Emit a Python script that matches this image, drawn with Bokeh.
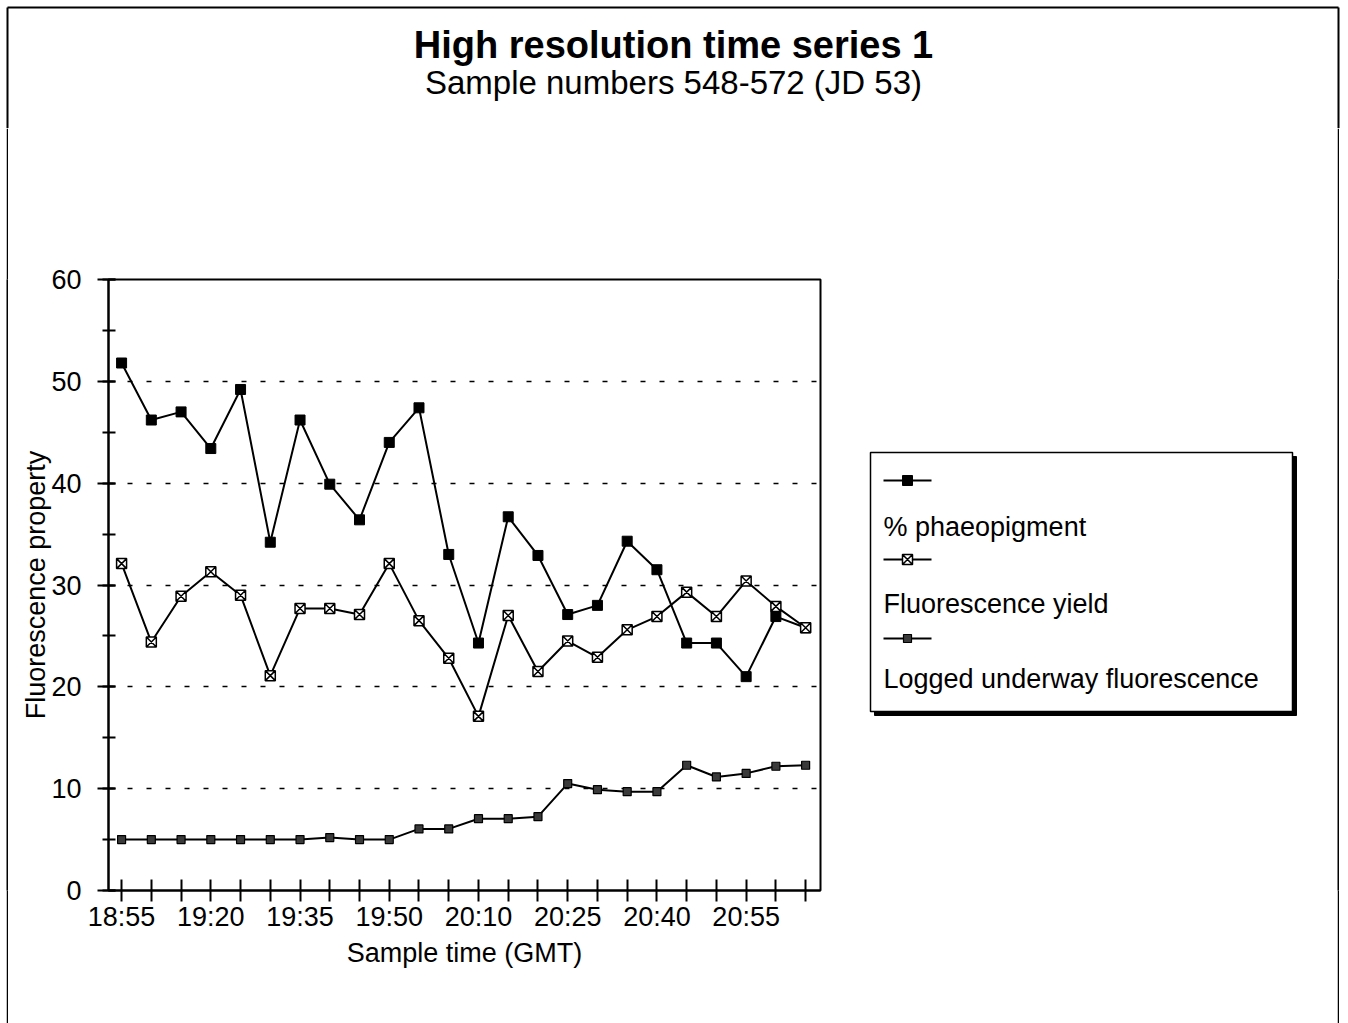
from bokeh.plotting import figure
from bokeh.models import Range1d, FixedTicker, SingleIntervalTicker, ColumnDataSource, Spacer
from bokeh.layouts import column, row
from bokeh.core.properties import value
from bokeh.embed import file_html
from bokeh.resources import INLINE

FONT = "Liberation Sans"

# ---------------- data ----------------
title = "High resolution time series 1"
subtitle = "Sample numbers 548-572 (JD 53)"
x_label = "Sample time (GMT)"
y_label = "Fluorescence property"

sample_index = list(range(24))
label_positions = [0, 3, 6, 9, 12, 15, 18, 21]
time_labels = ["18:55", "19:20", "19:35", "19:50", "20:10", "20:25", "20:40", "20:55"]

series_names = ["% phaeopigment", "Fluorescence yield", "Logged underway fluorescence"]

phaeopigment = [51.8, 46.2, 47.0, 43.4, 49.2, 34.2, 46.2, 39.9, 36.4, 44.0, 47.4, 33.0,
                24.3, 36.7, 32.9, 27.1, 28.0, 34.3, 31.5, 24.3, 24.3, 21.0, 26.9, 25.8]
fluor_yield = [32.1, 24.4, 28.9, 31.3, 29.0, 21.1, 27.7, 27.7, 27.1, 32.1, 26.5, 22.8,
               17.1, 27.0, 21.5, 24.5, 22.9, 25.6, 26.9, 29.3, 26.9, 30.4, 27.9, 25.8]
logged_fluor = [5.0, 5.0, 5.0, 5.0, 5.0, 5.0, 5.0, 5.2, 5.0, 5.0, 6.05, 6.05,
                7.05, 7.05, 7.25, 10.5, 9.9, 9.7, 9.7, 12.3, 11.15, 11.5, 12.2, 12.3]

grid_values = [10, 20, 30, 40, 50]

# marker styles for each series
styles = [
    dict(marker="square", size=10, fill_color="black", line_color="black", line_width=1),
    dict(marker="square_x", size=10, fill_color="white", line_color="black", line_width=1.5),
    dict(marker="square", size=8, fill_color="#3a3a3a", line_color="black", line_width=1.2),
]

# ---------------- geometry (page pixels) ----------------
W_TOTAL = 1341
TITLE_H = 128
ROW_H = 895
P_W = 832
LEG_X0 = 840
LEG_W = 497
FRAME_TOP = 151
FRAME_BOTTOM = 133


def bare(fig, bg="white"):
    fig.outline_line_color = None
    fig.background_fill_color = bg
    fig.border_fill_color = bg
    return fig


# ---------------- title figure ----------------
tf = bare(figure(width=W_TOTAL, height=TITLE_H, x_range=Range1d(0, W_TOTAL),
                 y_range=Range1d(TITLE_H, 0), x_axis_type=None, y_axis_type=None,
                 toolbar_location=None, output_backend="svg", min_border=0))
tf.text(x=[673], y=[44], text=[title], text_align="center", text_baseline="alphabetic",
        text_font=value(FONT), text_font_size="38px", text_font_style="bold", text_color="black")
tf.text(x=[673], y=[82], text=[subtitle], text_align="center", text_baseline="alphabetic",
        text_font=value(FONT), text_font_size="33px", text_color="black")
# outer page border (top, left, right)
tf.segment(x0=[7, 7, 1338], y0=[7, 7, 7], x1=[1338, 7, 1338], y1=[7, TITLE_H, TITLE_H],
           line_color="black", line_width=2)

# ---------------- border strips ----------------
def strip():
    return bare(figure(width=2, height=ROW_H, x_axis_type=None, y_axis_type=None,
                       toolbar_location=None, output_backend="svg", min_border=0), "black")

# ---------------- main plot ----------------
p = figure(width=P_W, height=ROW_H, x_range=Range1d(-0.44, 23.5), y_range=Range1d(0, 60),
           toolbar_location=None, output_backend="svg",
           min_border_left=100, min_border_right=20,
           min_border_top=FRAME_TOP, min_border_bottom=FRAME_BOTTOM)
p.outline_line_color = "black"
p.outline_line_width = 2

src = ColumnDataSource(dict(x=sample_index, s0=phaeopigment, s1=fluor_yield, s2=logged_fluor))
for i, key in enumerate(["s0", "s1", "s2"]):
    p.line("x", key, source=src, line_color="black", line_width=2)
    st = styles[i]
    p.scatter("x", key, source=src, marker=st["marker"], size=st["size"],
              fill_color=st["fill_color"], line_color=st["line_color"], line_width=st["line_width"])

overrides = {i: "" for i in sample_index}
for pos, lab in zip(label_positions, time_labels):
    overrides[pos] = lab
p.xaxis.ticker = FixedTicker(ticks=sample_index)
p.xaxis.major_label_overrides = overrides
p.yaxis.ticker = SingleIntervalTicker(interval=10, num_minor_ticks=2)

for ax in (p.xaxis[0], p.yaxis[0]):
    ax.axis_line_color = "black"
    ax.axis_line_width = 2
    ax.major_tick_line_color = "black"
    ax.major_tick_line_width = 2
    ax.major_label_text_font = FONT
    ax.major_label_text_font_size = "27px"
    ax.major_label_text_color = "black"
    ax.axis_label_text_font = FONT
    ax.axis_label_text_font_size = "27px"
    ax.axis_label_text_font_style = "normal"
    ax.axis_label_text_color = "black"

p.xaxis.axis_label = x_label
p.xaxis.major_tick_in = 11
p.xaxis.major_tick_out = 11
p.xaxis.minor_tick_line_color = None
p.xaxis.major_label_standoff = 0
p.xaxis.axis_label_standoff = 3

p.yaxis.axis_label = y_label
p.yaxis.major_tick_in = 7
p.yaxis.major_tick_out = 11
p.yaxis.minor_tick_in = 7
p.yaxis.minor_tick_out = 6
p.yaxis.minor_tick_line_color = "black"
p.yaxis.minor_tick_line_width = 2
p.yaxis.major_label_standoff = 16
p.yaxis.axis_label_standoff = -3

p.xgrid.visible = False
p.ygrid.ticker = FixedTicker(ticks=grid_values)
p.ygrid.grid_line_color = "black"
p.ygrid.grid_line_width = 1.5
p.ygrid.grid_line_dash = "5 14"

# ---------------- legend figure (frame aligned with main plot frame) ----------------
frame_top_page = TITLE_H + FRAME_TOP
frame_bot_page = TITLE_H + ROW_H - FRAME_BOTTOM
lg = bare(figure(width=LEG_W, height=ROW_H, x_range=Range1d(LEG_X0, LEG_X0 + LEG_W),
                 y_range=Range1d(frame_bot_page, frame_top_page), x_axis_type=None,
                 y_axis_type=None, toolbar_location=None, output_backend="svg",
                 min_border_left=0, min_border_right=0,
                 min_border_top=FRAME_TOP, min_border_bottom=FRAME_BOTTOM))
lg.quad(left=[874], right=[1296], top=[456], bottom=[715], fill_color="black", line_color="black")
lg.quad(left=[870], right=[1292], top=[452], bottom=[711], fill_color="white",
        line_color="black", line_width=1.5)
line_rows = [480, 559, 638]
text_rows = [526, 603, 678]
for i in range(3):
    lg.line(x=[883, 931], y=[line_rows[i], line_rows[i]], line_color="black", line_width=2)
    st = styles[i]
    lg.scatter(x=[907], y=[line_rows[i]], marker=st["marker"], size=st["size"],
               fill_color=st["fill_color"], line_color=st["line_color"], line_width=st["line_width"])
    lg.text(x=[883], y=[text_rows[i]], text=[series_names[i]], text_align="left",
            text_baseline="alphabetic", text_font=value(FONT), text_font_size="27px",
            text_color="black")

layout = column(tf, row(Spacer(width=6, height=ROW_H), strip(), p, lg, strip(),
                        Spacer(width=2, height=ROW_H)))

open("out.html", "w").write(file_html(layout, INLINE))
